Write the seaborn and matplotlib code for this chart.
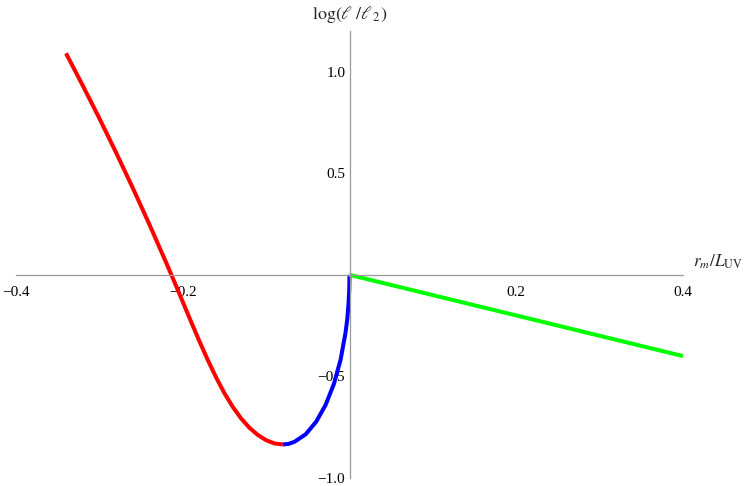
import numpy as np
import matplotlib
matplotlib.use('Agg')
import matplotlib.pyplot as plt
import seaborn as sns
from matplotlib.ticker import MultipleLocator

# ── Data ────────────────────────────────────────────────────────────────────
red_x = [-0.340, -0.320, -0.300, -0.280, -0.260, -0.240, -0.220, -0.210,
         -0.200, -0.190, -0.180, -0.170, -0.160, -0.150, -0.140, -0.130,
         -0.120, -0.110, -0.100, -0.090, -0.080]
red_y = [1.090, 0.932, 0.770, 0.602, 0.428, 0.248, 0.061, -0.035,
         -0.133, -0.231, -0.327, -0.419, -0.505, -0.583, -0.650, -0.707,
         -0.753, -0.788, -0.814, -0.830, -0.835]

blue_x = [-0.0800, -0.0730, -0.0661, -0.0526, -0.0400, -0.0286, -0.0187,
          -0.0107, -0.0048, -0.0026, -0.0012, -0.0003, 0.0000]
blue_y = [-0.835, -0.832, -0.822, -0.785, -0.723, -0.640, -0.537,
          -0.418, -0.286, -0.216, -0.145, -0.073, 0.000]

green_x = [0.0, 0.1, 0.2, 0.3, 0.4]
green_y = [0.0, -0.10, -0.20, -0.30, -0.40]

x_ticks = [-0.4, -0.2, 0.2, 0.4]
y_ticks = [-1.0, -0.5, 0.5, 1.0]

# ── Style ───────────────────────────────────────────────────────────────────
sns.set_style('white')
plt.rcParams['font.family'] = ['Liberation Serif', 'DejaVu Serif']
plt.rcParams['mathtext.fontset'] = 'stix'

fig = plt.figure(figsize=(7.47, 4.86), dpi=100)
W, H = 747, 486
ax = fig.add_axes([16 / W, (H - 478) / H, 667 / W, 447 / H])

lw = 2.9
sns.lineplot(x=red_x, y=red_y, color='#ff0000', lw=lw, sort=False,
             estimator=None, ax=ax, solid_capstyle='butt')
sns.lineplot(x=blue_x, y=blue_y, color='#0000ff', lw=lw, sort=False,
             estimator=None, ax=ax, solid_capstyle='butt')
sns.lineplot(x=green_x, y=green_y, color='#00ff00', lw=lw, sort=False,
             estimator=None, ax=ax, solid_capstyle='butt')

ax.set_xlim(-0.4, 0.4)
ax.set_ylim(-1.0, 1.2)

# Mathematica-like axes through the origin
for s in ['top', 'right']:
    ax.spines[s].set_visible(False)
for s in ['left', 'bottom']:
    ax.spines[s].set_position(('data', 0))
    ax.spines[s].set_color('#999999')
    ax.spines[s].set_linewidth(0.9)

ax.set_xticks(x_ticks)
ax.set_yticks(y_ticks)
ax.set_xticklabels([f'{v:.1f}'.replace('-', '\u2212') for v in x_ticks])
ax.set_yticklabels([f'{v:.1f}'.replace('-', '\u2212') for v in y_ticks])
ax.xaxis.set_minor_locator(MultipleLocator(0.05))
ax.yaxis.set_minor_locator(MultipleLocator(0.1))
ax.tick_params(which='both', direction='in', color='#999999', width=0.9,
               labelsize=11, colors='#999999', labelcolor='black')
ax.tick_params(which='major', length=6)
ax.tick_params(which='minor', length=3.5)
ax.tick_params(axis='x', pad=8)
ax.tick_params(axis='y', pad=3)
ax.grid(False)

ax.text(0.0, 1.28, r'$\mathrm{log}(\ell\;/\ell_{\;2})$', ha='center',
        va='center', fontsize=13, clip_on=False)
ax.text(0.412, 0.065, r'$r_m/L_{\mathrm{UV}}$', ha='left', va='center',
        fontsize=12.5, clip_on=False)

fig.savefig('out.png', dpi=100)
